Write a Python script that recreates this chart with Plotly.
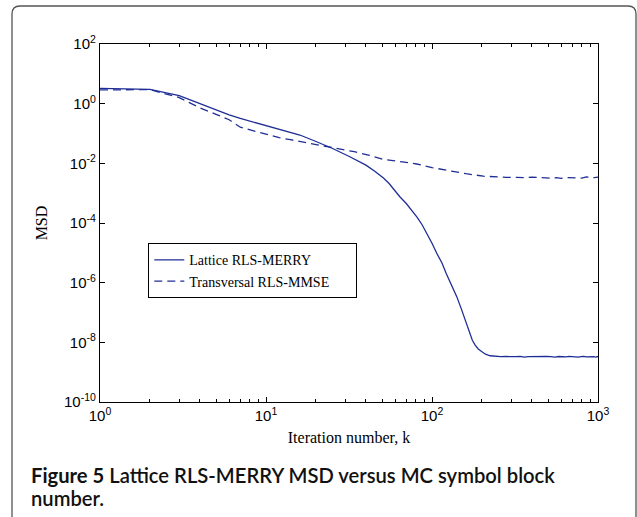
import plotly.graph_objects as go

# ---- data ----
lattice_k = [1, 2, 3, 4, 5, 6, 7, 8, 10, 12, 14, 16, 20, 25, 32, 40, 45, 51, 55, 58, 64, 70,
             74, 81, 87, 93, 100, 107, 115, 122, 131, 141, 150, 158, 169, 175, 182, 190, 199,
             210, 224, 240, 260, 280, 300, 320, 340, 360, 380, 400, 430, 460, 490, 520, 550,
             580, 610, 640, 670, 700, 730, 760, 790, 820, 850, 880, 910, 940, 970, 1000]
lattice_msd = [3.24, 3.0, 1.86, 0.98, 0.62, 0.42, 0.32, 0.26, 0.18, 0.138, 0.11, 0.089, 0.054,
               0.032, 0.0166, 0.0087, 0.0055, 0.0032, 0.00214, 0.00145, 7.6e-4, 4.5e-4,
               3.1e-4, 1.6e-4, 8.9e-5, 4.5e-5, 2.1e-5, 9.5e-6, 4.5e-6, 2.0e-6, 8.5e-7, 3.4e-7,
               1.35e-7, 5.6e-8, 1.8e-8, 1.17e-8, 8.1e-9, 6.0e-9, 4.9e-9, 4.0e-9, 3.55e-9,
               3.4e-9, 3.3e-9, 3.35e-9, 3.25e-9, 3.3e-9, 3.4e-9, 3.2e-9, 3.3e-9, 3.35e-9,
               3.25e-9, 3.3e-9, 3.4e-9, 3.3e-9, 3.2e-9, 3.35e-9, 3.3e-9, 3.25e-9, 3.4e-9,
               3.3e-9, 3.35e-9, 3.2e-9, 3.3e-9, 3.4e-9, 3.25e-9, 3.3e-9, 3.35e-9, 3.3e-9,
               3.2e-9, 3.35e-9]

transversal_k = [1, 2, 3, 4, 5, 6, 7, 8, 10, 12, 14, 16, 20, 22, 28, 34, 42, 51, 61, 70, 81,
                 100, 128, 160, 204, 240, 280, 323, 360, 400, 450, 513, 560, 600, 650, 700,
                 750, 800, 850, 900, 950, 1000]
transversal_msd = [2.9, 2.95, 1.6, 0.72, 0.44, 0.29, 0.162, 0.132, 0.093, 0.073, 0.062, 0.054,
                   0.043, 0.038, 0.031, 0.0245, 0.0185, 0.0135, 0.012, 0.0108, 0.0095, 0.0072,
                   0.0056, 0.0045, 0.0037, 0.0035, 0.0034, 0.0034, 0.0033, 0.00345, 0.00325,
                   0.0032, 0.0033, 0.00315, 0.00335, 0.0033, 0.0034, 0.0032, 0.0035, 0.0034,
                   0.0033, 0.00345]

y_tickvals = [1e2, 1e0, 1e-2, 1e-4, 1e-6, 1e-8, 1e-10]
y_ticktext = ["10<sup>2</sup>", "10<sup>0</sup>", "10<sup>-2</sup>", "10<sup>-4</sup>",
              "10<sup>-6</sup>", "10<sup>-8</sup>", "10<sup>-10</sup>"]
x_tickvals = [1, 10, 100, 1000]
x_ticktext = ["10<sup>0</sup>", "10<sup>1</sup>", "10<sup>2</sup>", "10<sup>3</sup>"]
x_minor_vals = [2, 3, 4, 5, 6, 7, 8, 9, 20, 30, 40, 50, 60, 70, 80, 90,
                200, 300, 400, 500, 600, 700, 800, 900]

series_names = ["Lattice RLS-MERRY", "Transversal RLS-MMSE"]
caption_bold = "Figure 5"
caption_rest = " Lattice RLS-MERRY MSD versus MC symbol block"
caption_line2 = "number."

# ---- figure ----
W, H = 637, 517
L, R, T, B = 100, 598, 44, 402
COLOR = "#1f2e96"

def px(xp):
    return (xp - L) / (R - L)

def py(yp):
    return (B - yp) / (B - T)

pad_span = '<span style="color:rgba(0,0,0,0)">xxx</span>'

fig = go.Figure()
fig.add_trace(go.Scatter(x=lattice_k, y=lattice_msd, mode="lines", name=series_names[0],
                         line=dict(color=COLOR, width=1.3)))
fig.add_trace(go.Scatter(x=transversal_k, y=transversal_msd, mode="lines",
                         name=series_names[1] + pad_span,
                         line=dict(color=COLOR, width=1.3, dash="8px,5px")))

axis_common = dict(showline=True, linecolor="black", linewidth=1.3, mirror="ticks",
                   ticks="inside", ticklen=5, tickcolor="black", tickwidth=1,
                   showgrid=False, zeroline=False,
                   tickfont=dict(family="Liberation Sans, Arial", size=15, color="black"))

fig.update_xaxes(type="log", range=[0, 3], tickvals=x_tickvals, ticktext=x_ticktext,
                 minor=dict(tickmode="array", tickvals=x_minor_vals, ticks="inside",
                            ticklen=3, tickcolor="black", tickwidth=1, showgrid=False),
                 title=dict(text="Iteration number, k", standoff=8,
                            font=dict(family="Liberation Serif, Times New Roman", size=16,
                                      color="black")),
                 **axis_common)
fig.update_yaxes(type="log", range=[-10, 2], tickvals=y_tickvals, ticktext=y_ticktext,
                 title=dict(text="MSD", standoff=12,
                            font=dict(family="Liberation Serif, Times New Roman", size=16,
                                      color="black")),
                 **axis_common)

fig.update_layout(
    width=W, height=H,
    margin=dict(l=L, r=W - R, t=T, b=H - B, pad=0),
    paper_bgcolor="white", plot_bgcolor="white",
    showlegend=True,
    legend=dict(x=px(148), y=py(243), xanchor="left", yanchor="top",
                bgcolor="white", bordercolor="black", borderwidth=1.3,
                font=dict(family="Liberation Serif, Times New Roman", size=14, color="black"),
                tracegroupgap=0),
)

# rounded outer frame
x0, x1 = px(12), px(636)
y0, y1 = py(6), py(525)
rx, ry = 8 / (R - L), 8 / (B - T)
path = (f"M {x0+rx},{y0} L {x1-rx},{y0} Q {x1},{y0} {x1},{y0-ry} "
        f"L {x1},{y1} L {x0},{y1} L {x0},{y0-ry} Q {x0},{y0} {x0+rx},{y0} Z")
fig.add_shape(type="path", path=path, xref="paper", yref="paper",
              line=dict(color="#555555", width=1.3), fillcolor="rgba(0,0,0,0)", layer="below")

cap_font = dict(family="Lato, Open Sans", size=20.2, color="#111111", weight=600)
fig.add_annotation(text=f"<b>{caption_bold}</b>{caption_rest}", xref="paper", yref="paper",
                   x=px(29), y=py(475), xanchor="left", yanchor="middle", showarrow=False,
                   font=cap_font)
fig.add_annotation(text=caption_line2, xref="paper", yref="paper",
                   x=px(29), y=py(498), xanchor="left", yanchor="middle", showarrow=False,
                   font=cap_font)

fig.write_html("out.html")
